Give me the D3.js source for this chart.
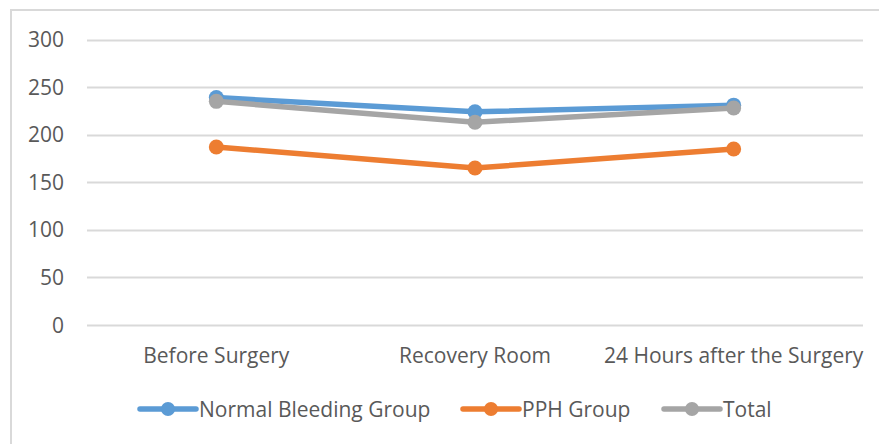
<!DOCTYPE html>
<html>
<head>
<meta charset="utf-8">
<script src="https://cdn.jsdelivr.net/npm/d3@7"></script>
<style>
  body { margin: 0; background: #fff; }
  text { font-family: "Open Sans", sans-serif; fill: #595959; }
</style>
</head>
<body>
<div id="container"></div>
<script>
// data
var categories = ["Before Surgery", "Recovery Room", "24 Hours after the Surgery"];
var normalBleeding = [239, 224, 231];
var pphGroup = [187, 165, 185];
var total = [235, 213, 228];
var seriesNames = ["Normal Bleeding Group", "PPH Group", "Total"];
var yTicks = [0, 50, 100, 150, 200, 250, 300];

var width = 879, height = 444;
var colors = ["#5B9BD5", "#ED7D31", "#A5A5A5"];

var svg = d3.select("#container").append("svg")
    .attr("width", width)
    .attr("height", height);

// outer chart border (runs off right/bottom edge like the reference)
svg.append("rect")
    .attr("x", 11).attr("y", 10)
    .attr("width", 900).attr("height", 460)
    .style("fill", "none")
    .style("stroke", "#d9d9d9")
    .style("stroke-width", 2);

var x = d3.scaleBand().domain(categories).range([87, 863]);
var y = d3.scaleLinear().domain([0, 300]).range([325, 39.5]);

// gridlines
svg.append("g").selectAll("line")
    .data(yTicks)
    .enter().append("line")
    .attr("x1", 87).attr("x2", 863)
    .attr("y1", function(d) { return Math.round(y(d)) + 0.5; })
    .attr("y2", function(d) { return Math.round(y(d)) + 0.5; })
    .style("stroke", "#d9d9d9")
    .style("stroke-width", 2);

// y labels
svg.append("g").selectAll("text")
    .data(yTicks)
    .enter().append("text")
    .attr("x", 64)
    .attr("y", function(d) { return y(d); })
    .attr("dy", "0.36em")
    .attr("text-anchor", "end")
    .style("font-size", "21px")
    .text(function(d) { return d; });

// x labels
svg.append("g").selectAll("text")
    .data(categories)
    .enter().append("text")
    .attr("x", function(d) { return x(d) + x.bandwidth() / 2; })
    .attr("y", 363)
    .attr("text-anchor", "middle")
    .style("font-size", "21px")
    .text(function(d) { return d; });

var series = [normalBleeding, pphGroup, total];
var line = d3.line()
    .x(function(d, i) { return x(categories[i]) + x.bandwidth() / 2; })
    .y(function(d) { return y(d); });

series.forEach(function(vals, s) {
    var g = svg.append("g");
    g.append("path")
        .attr("d", line(vals))
        .style("fill", "none")
        .style("stroke", colors[s])
        .style("stroke-width", 5.5)
        .style("stroke-linejoin", "round")
        .style("stroke-linecap", "round");
    g.selectAll("circle")
        .data(vals)
        .enter().append("circle")
        .attr("cx", function(d, i) { return x(categories[i]) + x.bandwidth() / 2; })
        .attr("cy", function(d) { return y(d); })
        .attr("r", 7.5)
        .style("fill", colors[s]);
});

// legend
var legendX = [140, 463, 664];
var legend = svg.append("g").selectAll("g")
    .data(seriesNames)
    .enter().append("g")
    .attr("transform", function(d, i) { return "translate(" + legendX[i] + ",409)"; });

legend.append("line")
    .attr("x1", 0).attr("x2", 56)
    .style("stroke", function(d, i) { return colors[i]; })
    .style("stroke-width", 5.5)
    .style("stroke-linecap", "round");
legend.append("circle")
    .attr("cx", 28).attr("r", 7)
    .style("fill", function(d, i) { return colors[i]; });
legend.append("text")
    .attr("x", 59)
    .attr("dy", "0.36em")
    .style("font-size", "21px")
    .text(function(d) { return d; });
</script>
</body>
</html>
